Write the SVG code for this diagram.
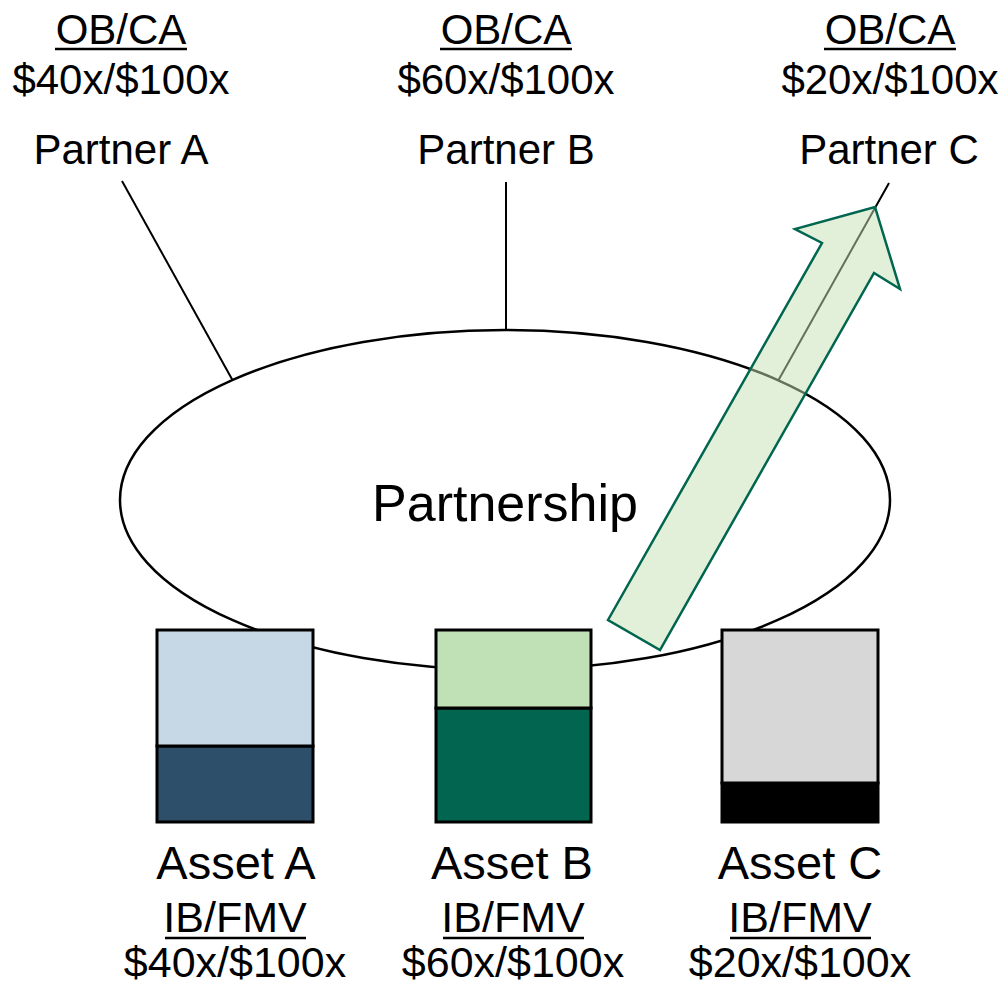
<svg xmlns="http://www.w3.org/2000/svg" width="1005" height="986" viewBox="0 0 1005 986">
<style>
.t{font-family:"Liberation Sans",Arial,sans-serif;font-size:42px;fill:#000;text-anchor:middle}
.b{font-family:"Liberation Sans",Arial,sans-serif;font-size:43px;fill:#000;text-anchor:middle}
.n{font-size:47px}
.u{stroke:#000;stroke-width:2.5}
.ln{stroke:#000;stroke-width:2;fill:none}
.bx{stroke:#000;stroke-width:3}
</style>
<rect width="1005" height="986" fill="#fff"/>
<g id="connectors">
<line class="ln" x1="122" y1="181" x2="233" y2="381"/>
<line class="ln" x1="506" y1="182" x2="506" y2="330"/>
<line class="ln" x1="889" y1="183" x2="778" y2="381"/>
</g>
<g id="partnership">
<ellipse cx="505" cy="500" rx="385" ry="170" fill="#fff" stroke="#000" stroke-width="2.5"/>
<text class="t" x="505" y="521" style="font-size:52px">Partnership</text>
</g>
<g id="partnerA">
<text class="t" x="121" y="44">OB/CA</text>
<line class="u" x1="55" y1="49" x2="187" y2="49"/>
<text class="t" x="121" y="94">$40x/$100x</text>
<text class="t" x="121" y="164">Partner A</text>
</g>
<g id="partnerB">
<text class="t" x="506" y="44">OB/CA</text>
<line class="u" x1="440" y1="49" x2="572" y2="49"/>
<text class="t" x="506" y="94">$60x/$100x</text>
<text class="t" x="506" y="164">Partner B</text>
</g>
<g id="partnerC">
<text class="t" x="890" y="44">OB/CA</text>
<line class="u" x1="824" y1="49" x2="956" y2="49"/>
<text class="t" x="890" y="94">$20x/$100x</text>
<text class="t" x="889" y="164">Partner C</text>
</g>
<g id="assetA">
<rect x="157" y="746" width="156" height="76" fill="#2E4F6A" class="bx"/>
<rect x="157" y="630" width="156" height="116" fill="#C6D8E6" class="bx"/>
<text class="b n" x="236" y="879">Asset A</text>
<text class="b" x="235" y="932">IB/FMV</text>
<line class="u" x1="165" y1="938" x2="306" y2="938"/>
<text class="b" x="235" y="977">$40x/$100x</text>
</g>
<g id="assetB">
<rect x="436" y="708" width="155" height="114" fill="#01654F" class="bx"/>
<rect x="436" y="630" width="155" height="78" fill="#C0E0B5" class="bx"/>
<text class="b n" x="512" y="879">Asset B</text>
<text class="b" x="513" y="932">IB/FMV</text>
<line class="u" x1="443" y1="938" x2="584" y2="938"/>
<text class="b" x="513" y="977">$60x/$100x</text>
</g>
<g id="assetC">
<rect x="722" y="783" width="156" height="39" fill="#000" class="bx"/>
<rect x="722" y="630" width="156" height="153" fill="#D7D7D7" class="bx"/>
<text class="b n" x="800" y="879">Asset C</text>
<text class="b" x="800" y="932">IB/FMV</text>
<line class="u" x1="730" y1="938" x2="871" y2="938"/>
<text class="b" x="800" y="977">$20x/$100x</text>
</g>
<g id="arrow">
<polygon points="608,620 822,243 795,229 875,207 900,289 874,273 660,650" fill="#C5E0B4" fill-opacity="0.5" stroke="#00664F" stroke-width="2.5" stroke-linejoin="miter"/>
</g>
</svg>
